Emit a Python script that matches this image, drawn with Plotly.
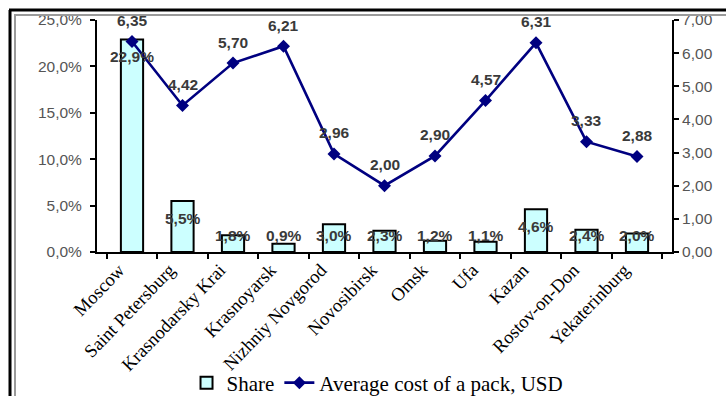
import plotly.graph_objects as go

cities = ["Moscow", "Saint Petersburg", "Krasnodarsky Krai", "Krasnoyarsk",
          "Nizhniy Novgorod", "Novosibirsk", "Omsk", "Ufa", "Kazan",
          "Rostov-on-Don", "Yekaterinburg"]
share_pct = [22.9, 5.5, 1.8, 0.9, 3.0, 2.3, 1.2, 1.1, 4.6, 2.4, 2.0]
pack_cost_usd = [6.35, 4.42, 5.70, 6.21, 2.96, 2.00, 2.90, 4.57, 6.31, 3.33, 2.88]

left_ticks = [0, 5, 10, 15, 20, 25]
left_tick_text = ["0,0%", "5,0%", "10,0%", "15,0%", "20,0%", "25,0%"]
right_ticks = [0, 1, 2, 3, 4, 5, 6, 7]
right_tick_text = ["0,00", "1,00", "2,00", "3,00", "4,00", "5,00", "6,00", "7,00"]


def comma(v, digits):
    return f"{v:.{digits}f}".replace(".", ",")


fig = go.Figure()

fig.add_trace(go.Bar(
    x=cities, y=share_pct, name="Share",
    marker=dict(color="#CCFFFF", line=dict(color="#000000", width=2)),
    width=0.44, yaxis="y",
))
fig.add_trace(go.Scatter(
    x=cities, y=pack_cost_usd, name="Average cost of a pack, USD",
    mode="lines+markers", yaxis="y2",
    line=dict(color="#000080", width=2.6),
    marker=dict(symbol="diamond", size=10, color="#000080"),
))

label_font = dict(family="Liberation Sans, Arial", size=15.5, color="#3a3a3a")
annotations = []
for c, v in zip(cities, share_pct):
    annotations.append(dict(
        x=c, y=max(v - 1.85, 1.75), xref="x", yref="y",
        text=f"<b>{comma(v, 1)}%</b>", showarrow=False, font=label_font,
    ))
for c, v in zip(cities, pack_cost_usd):
    annotations.append(dict(
        x=c, y=v, xref="x", yref="y2", yshift=21,
        text=f"<b>{comma(v, 2)}</b>", showarrow=False, font=label_font,
    ))

tick_font = dict(family="Liberation Sans, Arial", size=15.5, color="#555555")
axis_common = dict(
    showgrid=False, zeroline=False, automargin=False,
    showline=True, linecolor="#000000", linewidth=2,
    ticks="outside", ticklen=5, tickwidth=2, tickcolor="#000000",
)

fig.update_layout(
    width=726, height=396,
    margin=dict(l=97, r=54, t=20, b=144, autoexpand=False),
    paper_bgcolor="white", plot_bgcolor="white",
    showlegend=True,
    legend=dict(
        orientation="h", xref="container", yref="container",
        x=0.52, xanchor="center", y=13 / 396, yanchor="middle",
        font=dict(family="Liberation Serif, Times New Roman", size=21, color="#000000"),
        itemwidth=30, tracegroupgap=0, bgcolor="rgba(0,0,0,0)",
    ),
    bargap=0.5,
    xaxis=dict(
        type="category", tickangle=-46, tickson="boundaries",
        ticklabelshift=-13, ticklabelstandoff=-2,
        tickfont=dict(family="Liberation Serif, Times New Roman", size=18.5, color="#000000"),
        **axis_common,
    ),
    yaxis=dict(
        range=[0, 25], tickvals=left_ticks, ticktext=left_tick_text,
        tickfont=tick_font, ticklabelstandoff=5, **axis_common,
    ),
    yaxis2=dict(
        range=[0, 7], tickvals=right_ticks, ticktext=right_tick_text,
        overlaying="y", side="right", tickfont=tick_font, **axis_common,
    ),
    annotations=annotations,
    shapes=[
        # frame around the chart area
        dict(type="line", xref="paper", yref="paper",
             x0=(9 - 97) / 575, x1=(726 - 97) / 575,
             y0=(252 - 10) / 232, y1=(252 - 10) / 232,
             line=dict(color="#000000", width=3)),
        dict(type="line", xref="paper", yref="paper",
             x0=(14 - 97) / 575, x1=(726 - 97) / 575,
             y0=(252 - 15) / 232, y1=(252 - 15) / 232,
             line=dict(color="#9a9a9a", width=2)),
        dict(type="line", xref="paper", yref="paper",
             x0=(10 - 97) / 575, x1=(10 - 97) / 575,
             y0=(252 - 10) / 232, y1=(252 - 396) / 232,
             line=dict(color="#000000", width=3)),
        dict(type="line", xref="paper", yref="paper",
             x0=(15 - 97) / 575, x1=(15 - 97) / 575,
             y0=(252 - 15) / 232, y1=(252 - 396) / 232,
             line=dict(color="#9a9a9a", width=2)),
    ],
)

fig.write_html("out.html")
